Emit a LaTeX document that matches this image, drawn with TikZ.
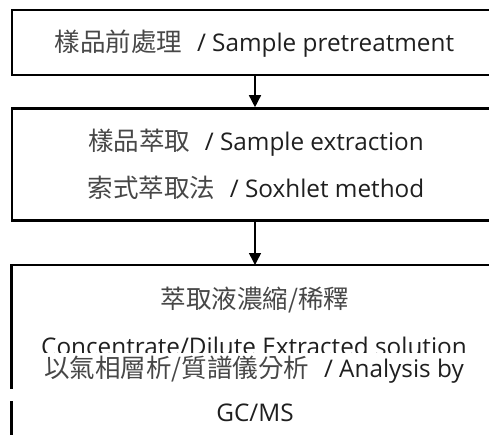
\documentclass[tikz,border=0pt]{standalone}
\usepackage{fontspec}
\usetikzlibrary{arrows.meta}
\setmainfont{Open Sans}
\newfontfamily\cjkfam[Scale=1.05]{Noto Sans CJK TC}
\newcommand{\cjk}{\cjkfam\color{black!72}}
\begin{document}
\begin{tikzpicture}[x=1pt,y=-1pt,
  boxline/.style={line width=2.6pt,black},
  flowarrow/.style={line width=1.5pt,-{Triangle[length=12pt,width=12pt]}},
  lbl/.style={font=\fontsize{24.3}{28}\selectfont,text=black!88,inner sep=0pt,anchor=center}]
\useasboundingbox (0,0) rectangle (489,434);
\clip (0,0) rectangle (489,434);
% box 1
\node[draw,boxline,minimum width=486pt,minimum height=65pt,inner sep=0pt] (b1) at (255,42.5) {};
\node[lbl] (t1) at (254.5,44) {{\cjk 樣品前處理}\hspace{0.6em}/ Sample pretreatment};
% box 2
\node[draw,boxline,minimum width=486pt,minimum height=112pt,inner sep=0pt] (b2) at (255,164.5) {};
\node[lbl] (t2a) at (256,143) {{\cjk 樣品萃取}\hspace{0.6em}/ Sample extraction};
\node[lbl] (t2b) at (256,188) {{\cjk 索式萃取法}\hspace{0.6em}/ Soxhlet method};
% box 3 (partly hidden)
\coordinate (b3tl) at (11.5,265);
\coordinate (b3tr) at (500,265);
\coordinate (b3gap1) at (11.5,389);
\coordinate (b3gap2) at (11.5,401);
\coordinate (b3bl) at (11.5,440);
\draw[boxline] (b3tr) -- (b3tl) -- (b3gap1);
\draw[boxline] (b3gap2) -- (b3bl);
\node[lbl] (t3a) at (255,300) {\cjk 萃取液濃縮/稀釋};
\begin{scope}
  \clip (0,300) rectangle (489,352);
  \node[lbl] (t3b) at (254,346) {Concentrate/Dilute Extracted solution};
\end{scope}
\node[lbl] (t4a) at (254,370) {{\cjk 以氣相層析/質譜儀分析}\hspace{0.6em}/ Analysis by};
\node[lbl] (t4b) at (255,413) {GC/MS};
% arrows
\draw[flowarrow] (b1.south) -- (b2.north);
\draw[flowarrow] (b2.south) -- (b3tl -| b2.south);
\end{tikzpicture}
\end{document}
